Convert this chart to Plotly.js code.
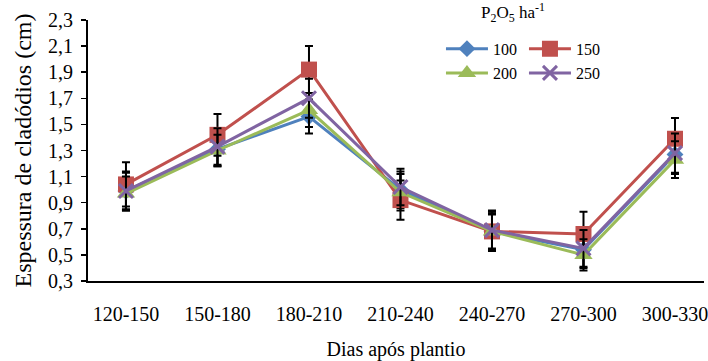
<!DOCTYPE html>
<html>
<head>
<meta charset="utf-8">
<script src="https://cdn.plot.ly/plotly-3.0.1.min.js"></script>
<style>html,body{margin:0;padding:0;background:#fff;}#chart{width:708px;height:361px;}</style>
</head>
<body>
<div id="chart"></div>
<script>
var categories = ['120-150', '150-180', '180-210', '210-240', '240-270', '270-300', '300-330'];
var seriesNames = ['100', '150', '200', '250'];
var p100 = [0.99, 1.31, 1.56, 1.00, 0.68, 0.54, 1.27];
var p150 = [1.04, 1.42, 1.92, 0.92, 0.68, 0.66, 1.39];
var p200 = [0.97, 1.30, 1.61, 0.98, 0.68, 0.50, 1.23];
var p250 = [0.99, 1.33, 1.70, 1.02, 0.69, 0.55, 1.28];
var e100 = [0.14, 0.13, 0.13, 0.14, 0.14, 0.14, 0.15];
var e150 = [0.17, 0.16, 0.18, 0.15, 0.15, 0.17, 0.16];
var e200 = [0.13, 0.12, 0.13, 0.14, 0.13, 0.12, 0.14];
var e250 = [0.15, 0.14, 0.15, 0.14, 0.15, 0.14, 0.15];
var yTicks = [0.3, 0.5, 0.7, 0.9, 1.1, 1.3, 1.5, 1.7, 1.9, 2.1, 2.3];

var values = [p100, p150, p200, p250];
var errors = [e100, e150, e200, e250];
var colors = ['#4F81BD', '#C0504D', '#9BBB59', '#8064A2'];
var symbols = ['diamond', 'square', 'triangle-up', 'x-thin-open'];
var sizes = [13, 16, 16, 14];
var legends = ['legend', 'legend', 'legend2', 'legend2'];

var traces = values.map(function (v, i) {
  return {
    type: 'scatter', mode: 'lines+markers',
    x: categories, y: v, name: seriesNames[i],
    legend: legends[i],
    line: {color: colors[i], width: 3},
    marker: {symbol: symbols[i], size: sizes[i], color: colors[i],
             line: {color: colors[i], width: symbols[i] === 'x-thin-open' ? 3 : 0}},
    error_y: {type: 'data', array: errors[i], visible: true, color: '#000', thickness: 2, width: 4}
  };
});

var serif = 'Liberation Serif, Times New Roman, serif';
var legendFont = {family: serif, size: 16, color: '#000'};
var layout = {
  width: 708, height: 361,
  margin: {l: 88, r: 4, t: 20, b: 80},
  paper_bgcolor: '#fff', plot_bgcolor: '#fff',
  separators: ', ',
  font: {family: serif, color: '#000', size: 17},
  showlegend: true,
  xaxis: {
    type: 'category', range: [-0.415, 6.317],
    showline: true, linecolor: '#000', linewidth: 1.5,
    ticks: 'outside', ticklen: 14, tickcolor: 'rgba(0,0,0,0)',
    showgrid: false, zeroline: false,
    tickfont: {family: serif, size: 20, color: '#000'},
    title: {text: 'Dias após plantio', font: {family: serif, size: 20, color: '#000'}, standoff: 18}
  },
  yaxis: {
    range: [0.3, 2.3], tickvals: yTicks, tickformat: '.1f',
    showline: true, linecolor: '#000', linewidth: 2,
    ticks: 'outside', ticklen: 5, tickwidth: 1.5, tickcolor: '#000',
    ticklabelstandoff: 4,
    showgrid: false, zeroline: false,
    tickfont: {family: serif, size: 20, color: '#000'},
    title: {text: 'Espessura de cladódios (cm)', font: {family: serif, size: 24, color: '#000'}, standoff: 10}
  },
  legend: {
    orientation: 'h', x: 0.573, xanchor: 'left', y: 0.955, yanchor: 'top',
    font: legendFont, entrywidth: 26, itemwidth: 42, bgcolor: 'rgba(0,0,0,0)', tracegroupgap: 0
  },
  legend2: {
    orientation: 'h', x: 0.573, xanchor: 'left', y: 0.862, yanchor: 'top',
    font: legendFont, entrywidth: 26, itemwidth: 42, bgcolor: 'rgba(0,0,0,0)', tracegroupgap: 0
  },
  annotations: [{
    xref: 'paper', yref: 'paper', x: 0.69, y: 1.03, xanchor: 'center', yanchor: 'middle',
    showarrow: false, text: 'P<sub>2</sub>O<sub>5</sub> ha<sup>-1</sup>',
    font: {family: serif, size: 17, color: '#000'}
  }]
};

Plotly.newPlot('chart', traces, layout, {displayModeBar: false, staticPlot: true});
</script>
</body>
</html>
